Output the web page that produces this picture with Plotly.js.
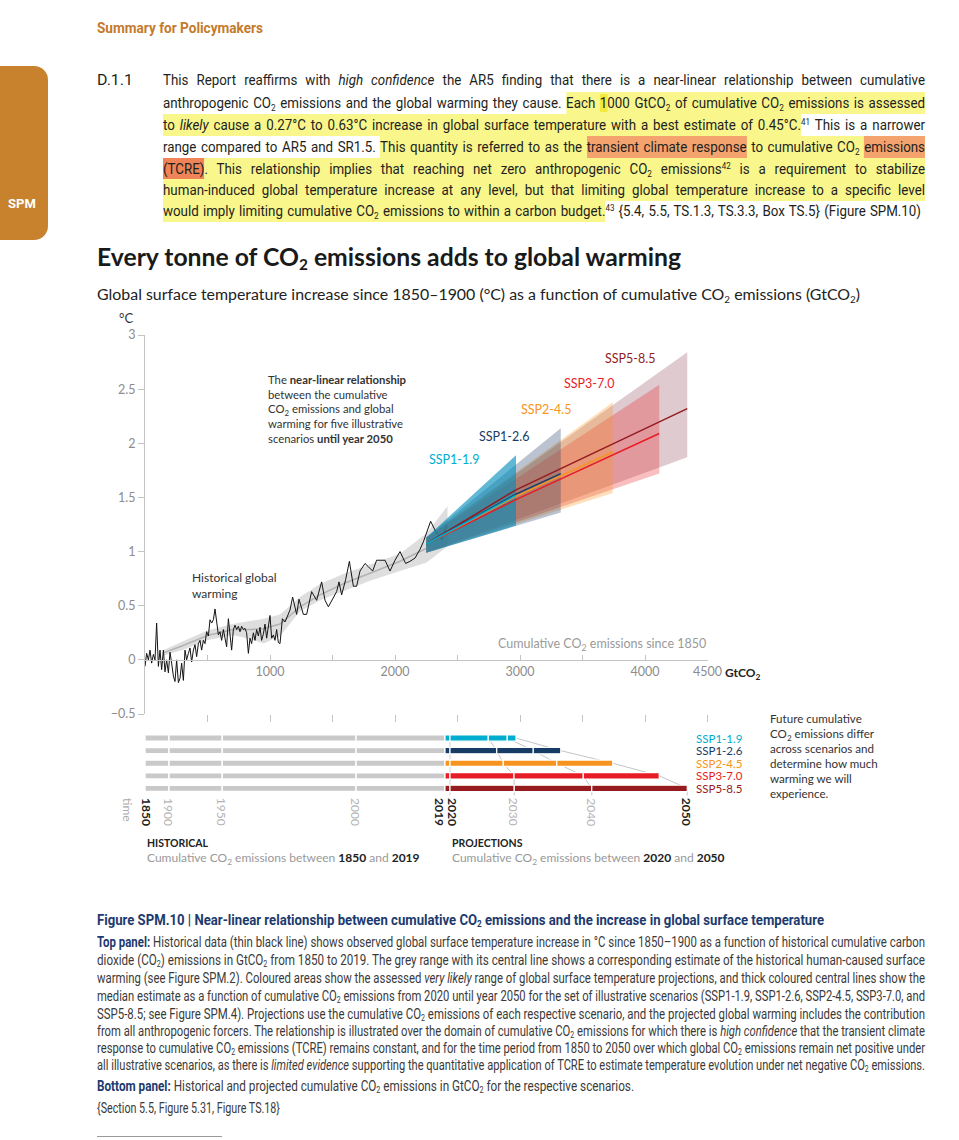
<!DOCTYPE html>
<html><head><meta charset="utf-8">
<script src="https://cdn.plot.ly/plotly-3.0.1.min.js"></script>
<style>
html,body{margin:0;padding:0;background:#fff;}
#page{position:relative;width:959px;height:1140px;overflow:hidden;background:#fff;}
#chart{position:absolute;left:0;top:0;width:959px;height:1140px;z-index:1;}
.ln{position:absolute;white-space:nowrap;line-height:20px;height:20px;z-index:2;color:#231f20;}
.ln>span{display:inline-block;transform-origin:0 50%;}
.body{font-family:Roboto,sans-serif;font-size:15.5px;}
.cap{font-family:Roboto,sans-serif;font-size:13.8px;color:#3a3a3a;}
sub{font-size:0.62em;vertical-align:-0.28em;line-height:0;}
sup{font-size:0.6em;vertical-align:0.55em;line-height:0;}
.y{background:#f9f68c;padding:2px 0;}
.y2{background:#f2ea3c;}
.o{background:#f4a36e;padding:2px 0;}
.o2{background:#ee8458;padding:2px 0;}
.nv{color:#1d3a6e;font-weight:700;}
#tab{position:absolute;left:0;top:66px;width:48px;height:174px;background:#c8822e;border-radius:0 14px 14px 0;z-index:2;}
#tab span{position:absolute;left:0;width:44px;top:130px;text-align:center;color:#fff;font:700 13px Roboto,sans-serif;}
#rule{position:absolute;left:97px;top:1136px;width:125px;height:1px;background:#9a9a9a;z-index:2;}
</style></head>
<body>
<div id="page">
<div id="chart"></div>
<div id="tab"><span>SPM</span></div>

<div class="ln body" data-m="f" data-w="166" style="left:97px;top:18px;color:#c47a2c;font-weight:700;"><span>Summary for Policymakers</span></div>

<div class="ln body" data-m="f" data-w="36" style="left:97px;top:70px;"><span>D.1.1</span></div>
<div class="ln body" data-m="j" data-w="762" style="left:163px;top:70px;"><span>This Report reaffirms with <i>high confidence</i> the AR5 finding that there is a near-linear relationship between cumulative</span></div>
<div class="ln body" data-m="j" data-w="762" style="left:163px;top:93px;"><span>anthropogenic CO<sub>2</sub> emissions and the global warming they cause. <span class="y">Each <span class="y2">1</span>000 GtCO<sub>2</sub> of cumulative CO<sub>2</sub> emissions is assessed</span></span></div>
<div class="ln body" data-m="j" data-w="762" style="left:163px;top:115px;"><span><span class="y">to <i>likely</i> cause a 0.27°C to 0.63°C increase in global surface temperature with a best estimate of 0.45°C.</span><sup>41</sup> This is a narrower</span></div>
<div class="ln body" data-m="j" data-w="762" style="left:163px;top:137px;"><span>range compared to AR5 and SR1.5. <span class="y">This quantity is referred to as the <span class="o">transient climate response</span> to cumulative CO<sub>2</sub> <span class="o">emissions</span></span></span></div>
<div class="ln body" data-m="j" data-w="762" style="left:163px;top:159px;"><span><span class="o2">(TCRE)</span><span class="y">. This relationship implies that reaching net zero anthropogenic CO<sub>2</sub> emissions<sup>42</sup> is a requirement to stabilize</span></span></div>
<div class="ln body" data-m="j" data-w="762" style="left:163px;top:180px;"><span><span class="y">human-induced global temperature increase at any level, but that limiting global temperature increase to a specific level</span></span></div>
<div class="ln body" data-m="j" data-w="758" style="left:163px;top:201px;"><span><span class="y">would imply limiting cumulative CO<sub>2</sub> emissions to within a carbon budget.</span><sup>43</sup> {5.4, 5.5, TS.1.3, TS.3.3, Box TS.5} (Figure SPM.10)</span></div>

<div class="ln" data-m="f" data-w="584" style="left:97px;top:241px;line-height:30px;height:30px;font:700 25px Lato,sans-serif;color:#1a1a1a;"><span>Every tonne of CO<sub>2</sub> emissions adds to global warming</span></div>
<div class="ln" data-m="f" data-w="763" style="left:97px;top:285px;font:400 15.5px Lato,sans-serif;color:#222;"><span>Global surface temperature increase since 1850–1900 (°C) as a function of cumulative CO<sub>2</sub> emissions (GtCO<sub>2</sub>)</span></div>

<div class="ln cap" data-m="f" data-w="727" style="left:97px;top:910px;font-size:14px;"><span><span class="nv">Figure SPM.10 | Near-linear relationship between cumulative CO<sub>2</sub> emissions and the increase in global surface temperature</span></span></div>
<div class="ln cap" data-m="j" data-w="828" style="left:97px;top:932px;"><span><span class="nv">Top panel:</span> Historical data (thin black line) shows observed global surface temperature increase in °C since 1850–1900 as a function of historical cumulative carbon</span></div>
<div class="ln cap" data-m="j" data-w="828" style="left:97px;top:950px;"><span>dioxide (CO<sub>2</sub>) emissions in GtCO<sub>2</sub> from 1850 to 2019. The grey range with its central line shows a corresponding estimate of the historical human-caused surface</span></div>
<div class="ln cap" data-m="j" data-w="828" style="left:97px;top:968px;"><span>warming (see Figure SPM.2). Coloured areas show the assessed <i>very likely</i> range of global surface temperature projections, and thick coloured central lines show the</span></div>
<div class="ln cap" data-m="j" data-w="828" style="left:97px;top:986px;"><span>median estimate as a function of cumulative CO<sub>2</sub> emissions from 2020 until year 2050 for the set of illustrative scenarios (SSP1-1.9, SSP1-2.6, SSP2-4.5, SSP3-7.0, and</span></div>
<div class="ln cap" data-m="j" data-w="828" style="left:97px;top:1004px;"><span>SSP5-8.5; see Figure SPM.4). Projections use the cumulative CO<sub>2</sub> emissions of each respective scenario, and the projected global warming includes the contribution</span></div>
<div class="ln cap" data-m="j" data-w="828" style="left:97px;top:1021px;"><span>from all anthropogenic forcers. The relationship is illustrated over the domain of cumulative CO<sub>2</sub> emissions for which there is <i>high confidence</i> that the transient climate</span></div>
<div class="ln cap" data-m="j" data-w="828" style="left:97px;top:1038px;"><span>response to cumulative CO<sub>2</sub> emissions (TCRE) remains constant, and for the time period from 1850 to 2050 over which global CO<sub>2</sub> emissions remain net positive under</span></div>
<div class="ln cap" data-m="j" data-w="828" style="left:97px;top:1055px;"><span>all illustrative scenarios, as there is <i>limited evidence</i> supporting the quantitative application of TCRE to estimate temperature evolution under net negative CO<sub>2</sub> emissions.</span></div>
<div class="ln cap" data-m="f" data-w="537" style="left:97px;top:1076px;"><span><span class="nv">Bottom panel:</span> Historical and projected cumulative CO<sub>2</sub> emissions in GtCO<sub>2</sub> for the respective scenarios.</span></div>
<div class="ln cap" data-m="f" data-w="183" style="left:97px;top:1098px;"><span>{Section 5.5, Figure 5.31, Figure TS.18}</span></div>
<div id="rule"></div>
</div>

<script>
// ---------------- DATA ----------------
const histCum = [0,13,27,40,53,67,80,93,107,120,133,147,160,173,187,200,213,227,240,253,267,280,293,307,320,333,347,360,373,387,400,413,427,440,453,467,480,493,507,520,533,547,560,573,587,600,613,627,640,653,667,680,693,707,720,733,747,760,773,787,800,813,827,840,853,867,880,893,907,920,933,947,960,973,987,1000,1013,1027,1040,1053,1067,1080,1099,1120,1160,1181,1213,1232,1267,1293,1333,1373,1413,1440,1467,1507,1533,1552,1573,1605,1635,1667,1693,1720,1760,1787,1821,1853,1893,1920,1960,2000,2040,2085,2120,2160,2200,2227,2285,2328,2373,2413];
const histTemp = [-0.06,0.06,0.0,0.09,-0.03,0.05,0.0,0.34,-0.06,0.09,-0.09,0.09,-0.11,0.0,-0.12,0.07,-0.03,-0.15,-0.2,0.0,-0.21,-0.17,-0.03,-0.19,0.09,0.0,0.06,0.11,-0.02,0.09,0.14,0.03,0.15,0.18,0.09,0.18,0.15,0.26,0.22,0.37,0.34,0.37,0.47,0.37,0.23,0.26,0.18,0.28,0.18,0.12,0.38,0.23,0.09,0.28,0.32,0.28,0.31,0.26,0.31,0.28,0.29,0.25,0.06,0.2,0.15,0.25,0.18,0.28,0.22,0.3,0.18,0.24,0.33,0.2,0.3,0.41,0.2,0.23,0.18,0.28,0.16,0.15,0.38,0.35,0.46,0.58,0.42,0.56,0.42,0.42,0.63,0.55,0.72,0.55,0.49,0.57,0.63,0.72,0.6,0.74,0.91,0.68,0.68,0.82,0.89,0.86,0.82,0.92,0.92,0.92,0.82,0.92,1.0,0.89,0.91,0.94,1.02,1.09,1.28,1.18,1.11,1.24];

const bandCum     = [150, 300, 500, 700, 850, 950, 1080, 1240, 1400, 1600, 1800, 2040, 2253, 2420];
const bandUpper   = [0.09,0.17,0.27,0.33,0.36,0.38,0.42, 0.58, 0.70, 0.80, 0.88, 0.98, 1.17, 1.42];
const bandLower   = [0.04,0.09,0.18,0.23,0.19,0.15,0.22, 0.45, 0.55, 0.64, 0.73, 0.82, 0.90, 1.05];
const bandCentral = [0.065,0.13,0.225,0.28,0.28,0.29,0.33,0.49,0.60, 0.71, 0.80, 0.91, 1.03, 1.10];

const scenarios  = ['SSP1-1.9','SSP1-2.6','SSP2-4.5','SSP3-7.0','SSP5-8.5'];
const scenColors = ['#00ADCF','#173C66','#F79420','#E71D25','#951B1E'];

const wedgeStartCum  = 2250;
const wedgeStartLow  = 0.99;
const wedgeStartHigh = 1.13;
const wedgeEndCum  = [2968, 3326, 3742, 4114, 4338];
const wedgeEndLow  = [1.24, 1.36, 1.54, 1.72, 1.87];
const wedgeEndHigh = [1.89, 2.14, 2.38, 2.54, 2.84];

const medianStartCum = 2250;
const medianStart    = 1.07;
const medianMidCum   = 2968;
const medianMid      = [1.52, 1.53, 1.51, 1.48, 1.57];
const medianEnd      = [1.52, 1.72, 1.92, 2.09, 2.32];

const histYears   = ['1850','1900','1950','2000','2019'];
const histYearCum = [0, 192, 618, 1688, 2400];
const cum2020 = 2440;
const cum2030 = [2746, 2814, 2866, 2952, 2954];
const cum2040 = [2898, 3106, 3294, 3506, 3574];
const cum2050 = [2968, 3326, 3742, 4114, 4338];

const yTickVals = [-0.5, 0, 0.5, 1, 1.5, 2, 2.5, 3];
const yTickText = ['−0.5','0','0.5','1','1.5','2','2.5','3'];
const xTickVals = [500,1000,1500,2000,2500,3000,3500,4000,4500];
const xLabelVals = [1000,2000,3000,4000,4500];
const xLabelText = ['1000','2000','3000','4000','4500'];

// ---------------- GEOMETRY / STYLE ----------------
const W = 959, H = 1140;
const xDom = [145/W, 707.5/W];
const yDom = [1-714/H, 1-335/H];
const zeroPos = yDom[0] + (0.5/3.5)*(yDom[1]-yDom[0]);
const y3Dom = [1-800/H, 1-728/H];
const wedgeFill = ['rgba(0,140,185,0.62)','rgba(30,55,100,0.30)','rgba(247,148,32,0.30)','rgba(231,40,45,0.30)','rgba(125,45,62,0.25)'];
const FONT = 'Lato, sans-serif';

const traces = [];
traces.push({type:'scatter', x: bandCum.concat(bandCum.slice().reverse()), y: bandUpper.concat(bandLower.slice().reverse()),
  fill:'toself', fillcolor:'rgba(200,200,200,0.6)', mode:'none', hoverinfo:'skip', xaxis:'x', yaxis:'y'});
traces.push({type:'scatter', x: bandCum.slice(0,-1), y: bandCentral.slice(0,-1), mode:'lines',
  line:{color:'#b3b3b3', width:1.6}, hoverinfo:'skip'});
traces.push({type:'scatter', x: histCum, y: histTemp, mode:'lines', line:{color:'#141414', width:1}, hoverinfo:'skip'});
for (let i = scenarios.length-1; i >= 0; i--) {
  traces.push({type:'scatter', x:[wedgeStartCum, wedgeEndCum[i], wedgeEndCum[i], wedgeStartCum],
    y:[wedgeStartLow, wedgeEndLow[i], wedgeEndHigh[i], wedgeStartHigh],
    fill:'toself', fillcolor: wedgeFill[i], mode:'none', hoverinfo:'skip'});
}
for (let i = scenarios.length-1; i >= 0; i--) {
  traces.push({type:'scatter', x:[medianStartCum, medianMidCum, wedgeEndCum[i]], y:[medianStart, medianMid[i], medianEnd[i]],
    mode:'lines', line:{color: scenColors[i], width:1.5}, hoverinfo:'skip'});
}
traces.push({type:'scatter', x:[histCum[0]], y:[histTemp[0]], xaxis:'x2', yaxis:'y', mode:'markers', marker:{opacity:0}, hoverinfo:'skip'});

const rows = scenarios.map((s,i)=>i);
for (let k = 0; k < histYearCum.length-1; k++) {
  traces.push({type:'bar', orientation:'h', xaxis:'x3', yaxis:'y3', y: rows,
    base: rows.map(()=>histYearCum[k]), x: rows.map(()=>histYearCum[k+1]-histYearCum[k]),
    width:0.5, marker:{color:'#c9c9c9', line:{color:'#ffffff', width:1.4}}, hoverinfo:'skip'});
}
const projBounds = rows.map(i=>[histYearCum[histYearCum.length-1], cum2020, cum2030[i], cum2040[i], cum2050[i]]);
for (let k = 0; k < 4; k++) {
  traces.push({type:'bar', orientation:'h', xaxis:'x3', yaxis:'y3', y: rows,
    base: rows.map(i=>projBounds[i][k]), x: rows.map(i=>projBounds[i][k+1]-projBounds[i][k]),
    width:0.5, marker:{color: scenColors, line:{color:'#ffffff', width:1.2}}, hoverinfo:'skip'});
}

const shapes = [];
function conn(arr){
  let p = 'M ' + arr[0] + ',' + rows[0];
  for (let i = 1; i < arr.length; i++) p += ' L ' + arr[i] + ',' + rows[i];
  p += ' L ' + arr[arr.length-1] + ',4.55';
  return {type:'path', xref:'x3', yref:'y3', path:p, line:{color:'#c4c4c4', width:1}, layer:'below'};
}
shapes.push(conn(cum2030), conn(cum2040), conn(cum2050));
shapes.push({type:'line', xref:'x3', yref:'y3', x0:cum2020, x1:cum2020, y0:rows[0], y1:4.55, line:{color:'#d0d0d0', width:1}, layer:'below'});

const ann = [];
function pA(text, px, py, o){ return Object.assign({xref:'paper', yref:'paper', x:px/W, y:1-py/H, text, showarrow:false,
  xanchor:'left', yanchor:'middle', align:'left', font:{family:FONT, size:12, color:'#333'}}, o||{}); }
ann.push(pA('°C', 117, 318, {font:{family:FONT, size:13, color:'#333'}}));
ann.push({xref:'x', yref:'y', x:4500, y:0, xanchor:'right', yanchor:'bottom', yshift:5, showarrow:false,
  text:'Cumulative CO<sub>2</sub> emissions since 1850', font:{family:FONT, size:12.5, color:'#9a9a9a'}});
ann.push({xref:'x', yref:'y', x:4500, y:0, xanchor:'left', yanchor:'top', xshift:15, yshift:-3, showarrow:false,
  text:'<b>GtCO<sub>2</sub></b>', font:{family:FONT, size:12, color:'#222'}});
ann.push(pA('Historical global<br>warming', 190, 585, {font:{family:FONT, size:12, color:'#333'}}));
ann.push(pA('The <b>near-linear relationship</b><br>between the cumulative<br>CO<sub>2</sub> emissions and global<br>warming for five illustrative<br>scenarios <b>until year 2050</b>',
  266, 409, {font:{family:FONT, size:11.3, color:'#333'}}));
const topLabelPos = [[2472,1.847],[2872,2.06],[3208,2.31],[3552,2.55],[3880,2.78]];
scenarios.forEach((s,i)=>ann.push({xref:'x', yref:'y', x:topLabelPos[i][0], y:topLabelPos[i][1], text:s, showarrow:false,
  xanchor:'center', yanchor:'middle', font:{family:FONT, size:12.5, color:scenColors[i]}}));
scenarios.forEach((s,i)=>ann.push({xref:'paper', yref:'y3', x:694/W, y:rows[i], text:s, showarrow:false,
  xanchor:'left', yanchor:'middle', font:{family:FONT, size:11.5, color:scenColors[i]}}));
ann.push(pA('Future cumulative<br>CO<sub>2</sub> emissions differ<br>across scenarios and<br>determine how much<br>warming we will<br>experience.',
  768, 755.5, {font:{family:FONT, size:11.6, color:'#333'}}));
function yr(text, x, shift, bold){ return {xref:'x3', yref:'paper', x, y:1-796/H, xshift:shift, textangle:90, showarrow:false,
  xanchor:'center', yanchor:'top', text: bold?'<b>'+text+'</b>':text,
  font:{family:FONT, size:12, color: bold?'#222':'#b4b4b4'}}; }
ann.push(yr(histYears[0], histYearCum[0], 2, true));
ann.push(yr(histYears[1], histYearCum[1], 0, false));
ann.push(yr(histYears[2], histYearCum[2], 0, false));
ann.push(yr(histYears[3], histYearCum[3], 0, false));
ann.push(yr(histYears[4], histYearCum[4], -5, true));
ann.push(yr('2020', cum2020, 3, true));
ann.push(yr('2030', cum2030[4], 0, false));
ann.push(yr('2040', cum2040[4], 0, false));
ann.push(yr('2050', cum2050[4], 0, true));
ann.push({xref:'paper', yref:'paper', x:128/W, y:1-796/H, textangle:90, showarrow:false, xanchor:'center', yanchor:'top',
  text:'time', font:{family:FONT, size:12, color:'#aaa'}});
ann.push(pA('<b>HISTORICAL</b>', 145, 843, {font:{family:FONT, size:10.5, color:'#222'}}));
ann.push(pA('Cumulative CO<sub>2</sub> emissions between <span style="color:#222;font-weight:bold">1850</span> and <span style="color:#222;font-weight:bold">2019</span>', 145, 858, {font:{family:FONT, size:12, color:'#999'}}));
ann.push(pA('<b>PROJECTIONS</b>', 450, 843, {font:{family:FONT, size:10.5, color:'#222'}}));
ann.push(pA('Cumulative CO<sub>2</sub> emissions between <span style="color:#222;font-weight:bold">2020</span> and <span style="color:#222;font-weight:bold">2050</span>', 450, 858, {font:{family:FONT, size:12, color:'#999'}}));

const layout = {
  width: W, height: H, margin:{l:0,r:0,t:0,b:0}, showlegend:false,
  paper_bgcolor:'#ffffff', plot_bgcolor:'rgba(0,0,0,0)', barmode:'overlay',
  font:{family:FONT},
  xaxis:{domain:xDom, range:[0,4500], anchor:'y', tickvals:xTickVals, ticks:'outside', ticklen:7, tickcolor:'#c4c4c4',
    showticklabels:false, showline:false, showgrid:false, zeroline:false, fixedrange:true},
  xaxis2:{overlaying:'x', anchor:'free', position:zeroPos, side:'bottom', range:[0,4500], tickvals:xLabelVals, ticktext:xLabelText,
    ticks:'inside', ticklen:5, tickcolor:'#c4c4c4', showline:true, linecolor:'#c4c4c4', linewidth:1, showgrid:false, zeroline:false,
    minor:{tickvals:xTickVals, ticks:'inside', ticklen:5, tickcolor:'#c4c4c4', showgrid:false},
    tickfont:{family:FONT, size:12.5, color:'#8c8c8c'}, fixedrange:true},
  yaxis:{domain:yDom, range:[-0.5,3], anchor:'x', tickvals:yTickVals, ticktext:yTickText, ticks:'outside', ticklen:6,
    tickcolor:'#c4c4c4', showline:true, linecolor:'#c4c4c4', showgrid:false, zeroline:false,
    tickfont:{family:FONT, size:12.5, color:'#8c8c8c'}, fixedrange:true},
  xaxis3:{domain:xDom, range:[0,4500], anchor:'y3', visible:false, fixedrange:true},
  yaxis3:{domain:y3Dom, range:[4.92,-0.8], anchor:'x3', visible:false, fixedrange:true},
  shapes, annotations: ann
};
Plotly.newPlot('chart', traces, layout, {staticPlot:true, displayModeBar:false});

function fitAll(){
  document.querySelectorAll('.ln').forEach(el=>{
    const sp = el.firstElementChild;
    sp.style.transform='none'; sp.style.wordSpacing='0px';
    const w = sp.getBoundingClientRect().width;
    const T = +el.dataset.w, mode = el.dataset.m || 'f', S = +(el.dataset.s || 0.86);
    let s;
    if (mode === 'j') {
      s = Math.min(S, T/w);
      const n = (sp.textContent.match(/ /g)||[]).length;
      if (n > 0) sp.style.wordSpacing = ((T/s - w)/n) + 'px';
    } else s = T/w;
    sp.style.transform = 'scaleX(' + s + ')';
  });
}
fitAll();
if (document.fonts && document.fonts.ready) document.fonts.ready.then(fitAll);
</script>
</body></html>
